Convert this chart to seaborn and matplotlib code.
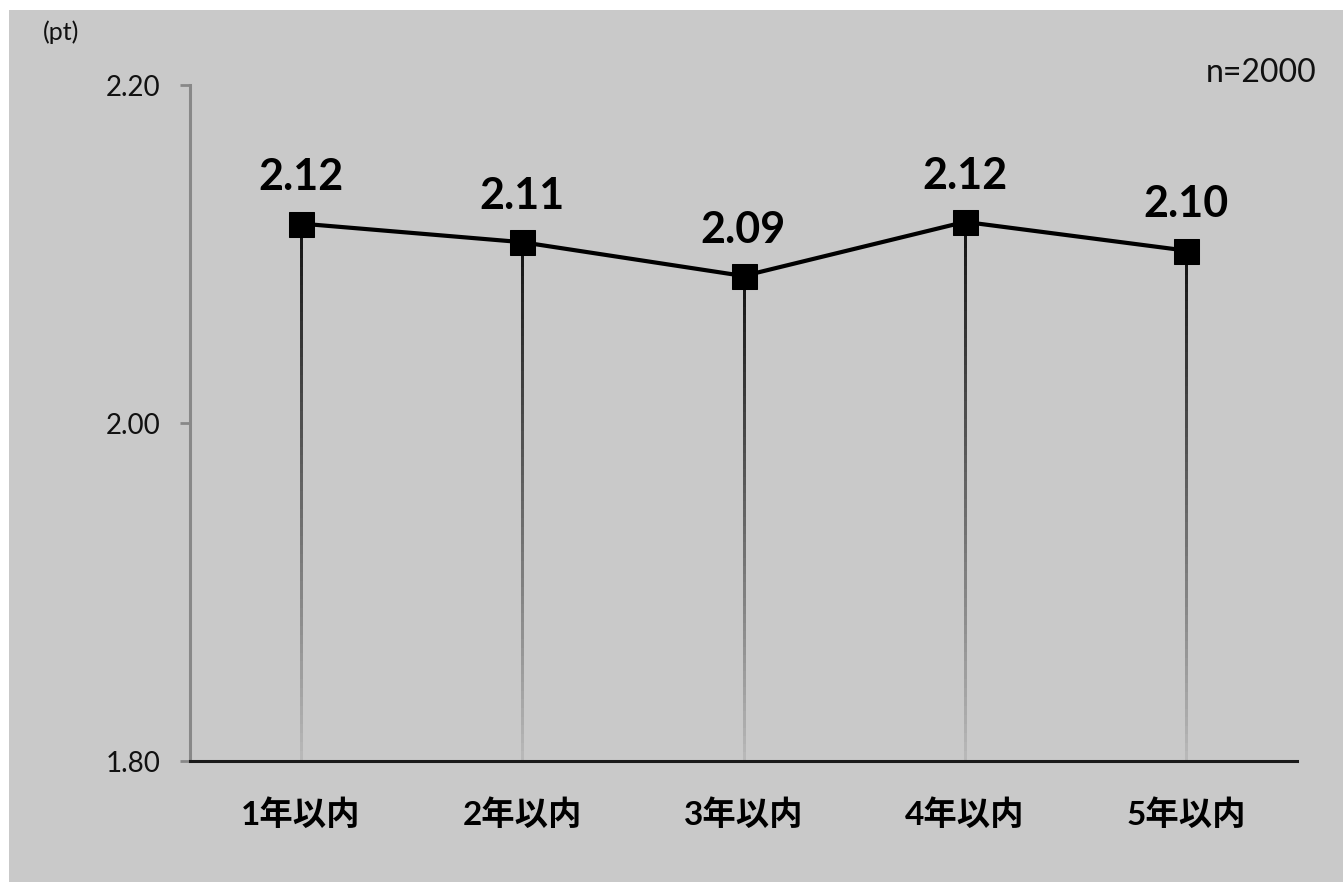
import numpy as np
import pandas as pd
import matplotlib
matplotlib.use("Agg")
import matplotlib.pyplot as plt
import seaborn as sns
from matplotlib.collections import LineCollection
from matplotlib.patches import Rectangle

# Data
categories = ["1年以内", "2年以内", "3年以内", "4年以内", "5年以内"]
scores = [2.118, 2.107, 2.087, 2.119, 2.102]
y_ticks = [1.80, 2.00, 2.20]
y_min, y_max = 1.80, 2.20
unit_label = "(pt)"
sample_note = "n=2000"

BG = "#c9c9c9"

sns.set_theme(style="white")
plt.rcParams["font.family"] = ["Lato", "Noto Sans CJK JP", "DejaVu Sans"]

df = pd.DataFrame({"category": categories, "score": scores, "pos": np.arange(len(categories))})

fig = plt.figure(figsize=(13.43, 8.82), dpi=100, facecolor="white")
fig.patches.append(Rectangle((9 / 1343, 0), 1 - 9 / 1343, 1 - 10 / 882,
                             transform=fig.transFigure, facecolor=BG,
                             edgecolor="none", zorder=-10))
ax = fig.add_axes([190 / 1343, 1 - 761 / 882, (1297 - 190) / 1343, (761 - 85) / 882])
ax.set_facecolor(BG)

# Drop lines from each point to the baseline, shaded dark-to-light
n_seg = 60
segs, cols = [], []
top_c = np.array([0.07, 0.07, 0.07])
bot_c = np.array([0.72, 0.72, 0.72])
for p, v in zip(df["pos"], df["score"]):
    ys = np.linspace(v, y_min, n_seg + 1)
    for i in range(n_seg):
        segs.append([(p, ys[i]), (p, ys[i + 1])])
        t = i / (n_seg - 1)
        cols.append(tuple(top_c + (bot_c - top_c) * t))
ax.add_collection(LineCollection(segs, colors=cols, linewidths=2.0, zorder=2,
                                 capstyle="projecting", antialiaseds=False))

sns.lineplot(data=df, x="pos", y="score", ax=ax, color="black", linewidth=3.0,
             marker="s", markersize=18, markeredgecolor="black",
             markerfacecolor="black", zorder=4)

for p, v in zip(df["pos"], df["score"]):
    ax.annotate(f"{v:.2f}", (p, v), xytext=(0, 19), textcoords="offset points",
                ha="center", va="bottom", fontsize=31, fontweight="bold",
                color="black", zorder=5)

ax.set_xlim(-0.5, len(categories) - 0.5)
ax.set_ylim(y_min, y_max)
ax.set_yticks(y_ticks)
ax.set_yticklabels([f"{t:.2f}" for t in y_ticks], fontsize=20, color="#111111")
ax.set_xticks(df["pos"])
ax.set_xticklabels(categories, fontsize=24, fontweight="bold", color="black")
ax.tick_params(axis="x", length=0, pad=27)
ax.tick_params(axis="y", length=7, width=2, color="#888888", pad=14, left=True)
ax.set_xlabel("")
ax.set_ylabel("")

for s in ["top", "right"]:
    ax.spines[s].set_visible(False)
ax.spines["left"].set_color("#888888")
ax.spines["left"].set_linewidth(2.2)
ax.spines["bottom"].set_color("#1a1a1a")
ax.spines["bottom"].set_linewidth(2.2)
ax.spines["bottom"].set_zorder(3)

fig.text(61 / 1343, 1 - 32 / 882, unit_label, fontsize=18, ha="center", va="center",
         color="#111111")
fig.text(1317 / 1343, 1 - 73 / 882, sample_note, fontsize=23, ha="right", va="center",
         color="#111111")

fig.savefig("out.png", dpi=100, facecolor="white")
